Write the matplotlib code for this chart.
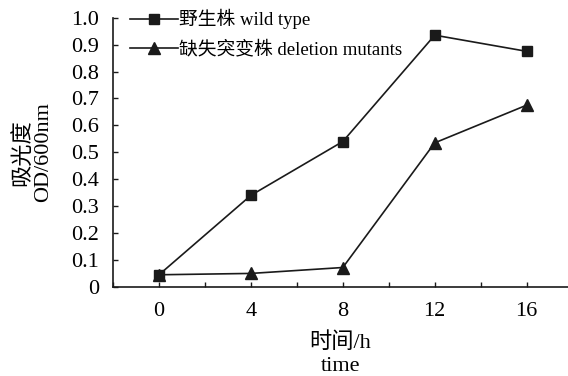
import matplotlib
matplotlib.use('Agg')
import matplotlib.pyplot as plt
from matplotlib.ticker import MultipleLocator

plt.rcParams['font.family'] = ['Liberation Serif', 'Noto Sans CJK SC']

hours = [0, 4, 8, 12, 16]
wild_type = [0.045, 0.34, 0.54, 0.935, 0.875]
mutants = [0.045, 0.05, 0.072, 0.535, 0.675]
y_ticks = [0, 0.1, 0.2, 0.3, 0.4, 0.5, 0.6, 0.7, 0.8, 0.9, 1.0]
y_tick_labels = ['0', '0.1', '0.2', '0.3', '0.4', '0.5', '0.6', '0.7', '0.8', '0.9', '1.0']

fig = plt.figure(figsize=(5.68, 3.76), dpi=100)
ax = fig.add_axes([0.199, 0.237, 0.801, 0.716])

ink = '#1a1a1a'
ax.plot(hours, wild_type, color=ink, lw=1.2, marker='s', ms=7.8, label='野生株 wild type')
ax.plot(hours, mutants, color=ink, lw=1.2, marker='^', ms=8.5, label='缺失突变株 deletion mutants')

ax.set_xlim(-2, 17.8)
ax.set_ylim(0, 1.0)
ax.set_xticks(hours)
ax.xaxis.set_minor_locator(MultipleLocator(2))
ax.set_yticks(y_ticks)
ax.set_yticklabels(y_tick_labels)

for s in ['top', 'right']:
    ax.spines[s].set_visible(False)
for s in ['left', 'bottom']:
    ax.spines[s].set_color(ink)
    ax.spines[s].set_linewidth(1.2)

ax.tick_params(which='both', direction='in', length=3.5, width=1, color=ink, labelsize=16)
ax.tick_params(axis='x', which='major', pad=11)
ax.tick_params(axis='y', pad=10)

ax.set_xlabel('时间/h\ntime', fontsize=16, linespacing=1.3, labelpad=8)
ax.set_ylabel('吸光度\nOD/600nm', fontsize=16, linespacing=1.1, labelpad=13)

ax.legend(loc='upper left', bbox_to_anchor=(0.02, 1.06), frameon=False, fontsize=13.5,
          handlelength=2.6, handletextpad=0.05, labelspacing=0.6, borderaxespad=0)

fig.savefig('out.png', dpi=100)
